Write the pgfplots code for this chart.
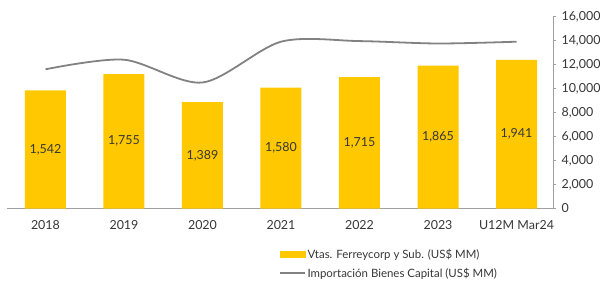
\documentclass[border=0pt]{standalone}
\usepackage{pgfplots}
\pgfplotsset{compat=1.18}
\usepackage{fontspec}
\setmainfont{Lato}
\definecolor{barc}{RGB}{255,200,0}
\definecolor{linec}{RGB}{130,130,130}
\definecolor{txt}{RGB}{55,55,55}
\definecolor{axc}{RGB}{160,160,160}
\begin{document}
\begin{tikzpicture}[x=1bp,y=1bp]
\useasboundingbox (0,0) rectangle (600,282);
\begin{axis}[
  at={(7bp,73.5bp)}, anchor=south west,
  scale only axis, width=546bp, height=192bp,
  xmin=-0.49, xmax=6.465, ymin=0, ymax=2508,
  axis x line*=bottom, axis y line=none,
  x axis line style={draw=axc, line width=0.8bp, -},
  xtick={0,1,2,3,4,5,6},
  xticklabels={2018,2019,2020,2021,2022,2023,U12M Mar24},
  major tick length=0pt,
  x tick label style={font=\fontsize{12.5}{14}\selectfont, text=txt, yshift=-8bp},
  /pgf/number format/assume math mode=true,
  /pgf/number format/1000 sep={,},
  clip=false,
]
\addplot[ybar, bar width=41bp, fill=barc, draw=none] coordinates {
  (0,1542) (1,1755) (2,1389) (3,1580) (4,1715) (5,1865) (6,1941)};
\addplot[draw=none, mark=none, nodes near coords, point meta=explicit,
  nodes near coords style={anchor=center, font=\fontsize{12.5}{14}\selectfont, text=txt}]
  coordinates {(0,771)[1542] (1,877.5)[1755] (2,694.5)[1389] (3,790)[1580]
  (4,857.5)[1715] (5,932.5)[1865] (6,970.5)[1941]};
\end{axis}
\begin{axis}[
  at={(7bp,73.5bp)}, anchor=south west,
  scale only axis, width=546bp, height=192bp,
  xmin=-0.49, xmax=6.465, ymin=0, ymax=16000,
  axis x line=none, axis y line*=right,
  y axis line style={draw=axc, line width=0.8bp, -},
  ytick={0,2000,...,16000},
  tick align=outside, major tick length=3bp,
  tick style={draw=axc, line width=0.8bp},
  y tick label style={font=\fontsize{12.5}{14}\selectfont, text=txt, xshift=2bp},
  /pgf/number format/assume math mode=true,
  /pgf/number format/1000 sep={,},
  scaled y ticks=false,
  legend style={at={(0.498,-0.2)}, anchor=north west, draw=none, fill=none,
    font=\fontsize{11.5}{13}\selectfont, text=txt, row sep=4bp,
    inner sep=0pt, outer sep=0pt},
  legend cell align=left,
]
\addlegendimage{legend image code/.code={\fill[barc] (0bp,-3bp) rectangle (25bp,3bp);}}
\addlegendentry{Vtas. Ferreycorp y Sub. (US\$ MM)}
\addplot[linec, line width=1.8bp, smooth,
  legend image code/.code={\draw[linec, line width=1.6bp] (0bp,0bp) -- (25bp,0bp);}]
  coordinates {
  (0,11600) (1,12400) (2,10500) (3,13900) (4,13950) (5,13750) (6,13900)};
\addlegendentry{Importación Bienes Capital (US\$ MM)}
\end{axis}
\end{tikzpicture}
\end{document}
